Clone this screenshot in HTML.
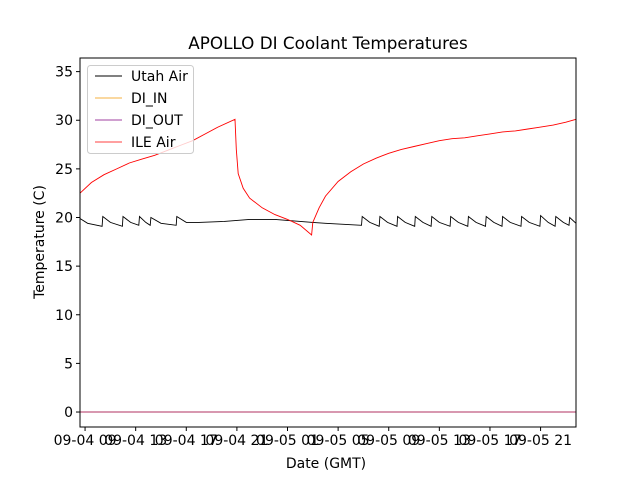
<!DOCTYPE html>
<html><head><meta charset="utf-8"><style>
body{margin:0;background:#fff;}
svg text{font-family:"DejaVu Sans","Liberation Sans",sans-serif;}
</style></head><body>
<svg id="chart" width="640" height="480"></svg>
<script>
const tickHours=[9,13,17,21,25,29,33,37,41,45];
const tickLabels=["09-04 09","09-04 13","09-04 17","09-04 21","09-05 01","09-05 05","09-05 09","09-05 13","09-05 17","09-05 21"];
const yTicks=[0,5,10,15,20,25,30,35];
const ileHours=[8.6,9.5,10.5,11.5,12.5,13.5,14.5,15.5,16.5,17.5,18.5,19.5,20.85,20.95,21.1,21.5,22,23,24,25,26,26.9,27.0,27.5,28,29,30,31,32,33,34,35,36,37,38,39,40,41,42,43,44,45,46,47,47.8];
const ileVals=[22.5,23.6,24.4,25.0,25.6,26.0,26.4,26.9,27.4,27.9,28.6,29.3,30.1,27.0,24.5,23.0,22.0,21.0,20.3,19.8,19.2,18.2,19.5,21.0,22.2,23.7,24.7,25.5,26.1,26.6,27.0,27.3,27.6,27.9,28.1,28.2,28.4,28.6,28.8,28.9,29.1,29.3,29.5,29.8,30.1];
const utahHours=[8.6,9.2,10.35,10.4,11.0,11.95,12.0,12.6,13.25,13.3,13.8,14.15,14.2,15.0,16.2,16.25,17,18,20,22,24,25,26,27,28,30.85,30.9,31.5,32.25,32.3,32.9,33.65,33.7,34.3,35.05,35.1,35.7,36.35,36.4,37,37.85,37.9,38.5,39.25,39.3,39.9,40.65,40.7,41.3,41.95,42.0,42.6,43.45,43.5,44.1,44.95,45.0,45.6,46.15,46.2,46.8,47.25,47.3,47.8];
const utahVals=[19.9,19.4,19.1,20.1,19.5,19.1,20.1,19.5,19.2,20.1,19.5,19.2,20.0,19.4,19.2,20.1,19.5,19.5,19.6,19.8,19.8,19.7,19.6,19.5,19.4,19.2,20.1,19.5,19.1,20.1,19.5,19.1,20.1,19.5,19.1,20.1,19.5,19.1,20.1,19.5,19.1,20.1,19.5,19.1,20.1,19.5,19.1,20.1,19.5,19.1,20.1,19.5,19.1,20.1,19.5,19.1,20.2,19.5,19.1,20.1,19.5,19.2,20.0,19.4];
const diHours=[8.6,47.8];
const diInVals=[0,0];
const diOutVals=[0,0];

const NS="http://www.w3.org/2000/svg";
const svg=document.getElementById('chart');
const L=80,R=576,T=58,B=427;
const xMin=8.6,xMax=47.8,yMin=-1.54,yMax=36.4;
const X=h=>L+(h-xMin)/(xMax-xMin)*(R-L);
const Y=v=>B-(v-yMin)/(yMax-yMin)*(B-T);
function el(tag,attrs,txt){const e=document.createElementNS(NS,tag);for(const k in attrs)e.setAttribute(k,attrs[k]);if(txt!==undefined)e.textContent=txt;svg.appendChild(e);return e;}
function line(hs,vs,color,w,name){
  const d=hs.map((h,i)=>(i?'L':'M')+X(h).toFixed(1)+','+Y(vs[i]).toFixed(1)).join('');
  const p=el('path',{d:d,fill:'none',stroke:color,'stroke-width':w});
  
  
}
line(utahHours,utahVals,'#000',0.9,'utah-air-line');
line(diHours,diInVals,'#f5b041',0.9,'di-in-line');
line(ileHours,ileVals,'#ff0000',0.9,'ile-air-line');
line(diHours,diOutVals,'#b03060',0.9,'di-out-line');
const frame=el('rect',{x:L,y:T,width:R-L,height:B-T,fill:'none',stroke:'#000','stroke-width':1});


yTicks.forEach(v=>{
  const t=el('line',{x1:L-4,x2:L,y1:Y(v),y2:Y(v),stroke:'#000'});
  
  
  const l=el('text',{x:L-7,y:Y(v)+5,'text-anchor':'end','font-size':14},String(v));
  
  
});
tickHours.forEach((h,i)=>{
  const t=el('line',{x1:X(h),x2:X(h),y1:B,y2:B+4,stroke:'#000'});
  
  
  const l=el('text',{x:X(h),y:B+18,'text-anchor':'middle','font-size':14},tickLabels[i]);
  
  
});
const title=el('text',{x:328,y:49,'text-anchor':'middle','font-size':16.8},'APOLLO DI Coolant Temperatures');


const xl=el('text',{x:326,y:468,'text-anchor':'middle','font-size':14},'Date (GMT)');


const yl=el('text',{x:0,y:0,'text-anchor':'middle','font-size':14,transform:'translate(44,242) rotate(-90)'},'Temperature (C)');


const lg=el('rect',{x:87.5,y:65.5,width:106,height:88,rx:3,fill:'#fff','fill-opacity':0.8,stroke:'#ccc'});


const names=['Utah Air','DI_IN','DI_OUT','ILE Air'];
const colors=['#000','#f5b041','#a040a0','#ff4040'];
names.forEach((n,i)=>{
  const y=76+i*22;
  const s=el('line',{x1:95,x2:122,y1:y,y2:y,stroke:colors[i],'stroke-width':0.9});
  
  
  const t=el('text',{x:131,y:y+5,'font-size':14},n);
  
  
});
</script>
</body></html>
